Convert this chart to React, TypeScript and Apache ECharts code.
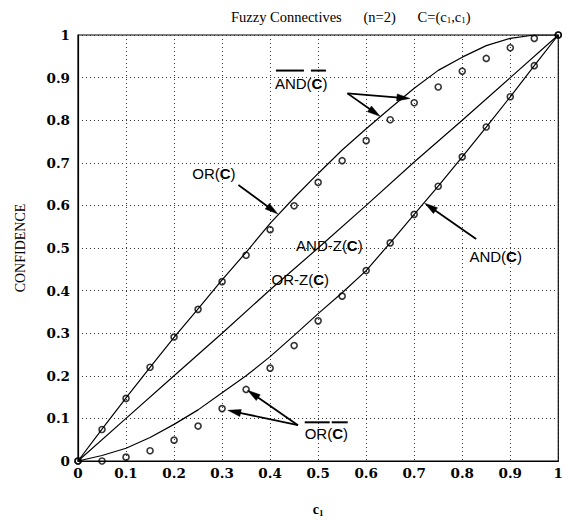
import React, { useEffect, useRef } from "react";
import * as echarts from "echarts";

// c1 sample points (0 .. 1 step 0.05)
const c1Values = [0, 0.05, 0.1, 0.15, 0.2, 0.25, 0.3, 0.35, 0.4, 0.45, 0.5, 0.55, 0.6, 0.65, 0.7, 0.75, 0.8, 0.85, 0.9, 0.95, 1];

// OR(C) solid curve
const orLine = [0, 0.075, 0.148, 0.22, 0.29, 0.357, 0.425, 0.49, 0.558, 0.618, 0.675, 0.73, 0.78, 0.828, 0.875, 0.917, 0.948, 0.975, 0.992, 1.0, 1.0];
// AND(C) solid curve
const andLine = [0, 0.013, 0.03, 0.055, 0.086, 0.12, 0.16, 0.2, 0.245, 0.295, 0.346, 0.395, 0.447, 0.512, 0.579, 0.645, 0.714, 0.784, 0.855, 0.928, 1.0];
// AND-Z(C) / OR-Z(C) curve (0 .. 1 step 0.1)
const zX = [0, 0.1, 0.2, 0.3, 0.4, 0.5, 0.6, 0.7, 0.8, 0.9, 1];
const zLine = [0, 0.1, 0.2, 0.3, 0.402, 0.5, 0.6, 0.702, 0.8, 0.9, 1.0];
// overlined AND(overlined C) circles
const andBarCircles = [0, 0.074, 0.147, 0.22, 0.291, 0.356, 0.421, 0.483, 0.543, 0.599, 0.654, 0.705, 0.752, 0.801, 0.841, 0.878, 0.915, 0.945, 0.97, 0.992, 1.0];
// overlined OR(overlined C) circles
const orBarCircles = [0, 0.0, 0.009, 0.024, 0.049, 0.082, 0.123, 0.168, 0.218, 0.271, 0.329, 0.387, 0.447, 0.512, 0.579, 0.645, 0.714, 0.784, 0.855, 0.928, 1.0];

// axis ticks
const tickMin = 0;
const tickMax = 1;
const tickStep = 0.1;

const pairs = (xs: number[], ys: number[]) => xs.map((x, i) => [x, ys[i]]);

const SANS = "'Liberation Sans', Arial, sans-serif";
const SERIF = "'Liberation Serif', 'Times New Roman', serif";
const TICKFONT = "'DejaVu Serif', serif";

export default function App() {
  const ref = useRef<HTMLDivElement>(null);

  useEffect(() => {
    if (!ref.current) return;
    const chart = echarts.init(ref.current, undefined, { renderer: "svg" });

    const axisCommon = {
      type: "value" as const,
      min: tickMin,
      max: tickMax,
      interval: tickStep,
      axisLine: { show: true, onZero: false, lineStyle: { color: "#000", width: 1.2 } },
      axisTick: { show: false },
      splitLine: { show: true, lineStyle: { color: "#333", width: 1, type: [1, 3] as any } },
      axisLabel: {
        color: "#000",
        fontFamily: TICKFONT,
        fontWeight: "bold" as const,
        fontSize: 13.5,
      },
    };

    const option: any = {
      animation: false,
      backgroundColor: "#fff",
      title: {
        text: "Fuzzy Connectives      (n=2)      C=(c{s|1},c{s|1})",
        left: 231,
        top: 9,
        padding: 0,
        textStyle: {
          fontFamily: SERIF,
          fontWeight: "normal",
          fontSize: 14.5,
          color: "#000",
          rich: {
            s: { fontFamily: SERIF, fontSize: 9, color: "#000", verticalAlign: "bottom", padding: [6, 0, 0, 0] },
          },
        },
      },
      grid: {
        left: 78,
        right: 3,
        top: 35,
        bottom: 52,
        show: true,
        borderColor: "#000",
        borderWidth: 1.2,
        backgroundColor: "transparent",
      },
      xAxis: {
        ...axisCommon,
        axisLabel: { ...axisCommon.axisLabel, margin: 5 },
        name: "c{s|1}",
        nameLocation: "middle",
        nameGap: 40,
        nameTextStyle: {
          fontFamily: SERIF,
          fontWeight: "bold",
          fontSize: 14,
          color: "#000",
          rich: {
            s: { fontFamily: SERIF, fontWeight: "bold", fontSize: 9, color: "#000", padding: [7, 0, 0, 0] },
          },
        },
      },
      yAxis: {
        ...axisCommon,
        axisLabel: { ...axisCommon.axisLabel, margin: 8 },
        name: "CONFIDENCE",
        nameLocation: "middle",
        nameGap: 51,
        nameTextStyle: { fontFamily: SERIF, fontSize: 14, color: "#000" },
      },
      series: [
        {
          name: "OR(C)",
          type: "line",
          data: pairs(c1Values, orLine),
          symbol: "none",
          lineStyle: { color: "#000", width: 1.2 },
          z: 3,
        },
        {
          name: "AND(C)",
          type: "line",
          data: pairs(c1Values, andLine),
          symbol: "none",
          lineStyle: { color: "#000", width: 1.2 },
          z: 3,
        },
        {
          name: "AND-Z(C) / OR-Z(C)",
          type: "line",
          data: pairs(zX, zLine),
          symbol: "none",
          lineStyle: { color: "#000", width: 1.2 },
          z: 3,
        },
        {
          name: "not AND(not C)",
          type: "scatter",
          data: pairs(c1Values, andBarCircles),
          symbol: "circle",
          symbolSize: 6,
          itemStyle: { color: "rgba(0,0,0,0)", borderColor: "#000", borderWidth: 1.6 },
          z: 4,
        },
        {
          name: "not OR(not C)",
          type: "scatter",
          data: pairs(c1Values, orBarCircles),
          symbol: "circle",
          symbolSize: 6,
          itemStyle: { color: "rgba(0,0,0,0)", borderColor: "#000", borderWidth: 1.6 },
          z: 4,
        },
      ],
    };

    chart.setOption(option);

    const p = (x: number, y: number) =>
      chart.convertToPixel({ xAxisIndex: 0, yAxisIndex: 0 }, [x, y]) as number[];

    const rich = {
      a: { fontFamily: SANS, fontSize: 15, color: "#000" },
      b: { fontFamily: SANS, fontSize: 15, fontWeight: "bold", color: "#000" },
    };

    const labels: { x: number; y: number; text: string; bars?: number[][]; barDy?: number }[] = [
      { x: 0.41, y: 0.886, text: "{a|AND(}{b|C}{a|)}", bars: [[1, 29], [36, 51]], barDy: -13 },
      { x: 0.238, y: 0.676, text: "{a|OR(}{b|C}{a|)}" },
      { x: 0.454, y: 0.506, text: "{a|AND-Z(}{b|C}{a|)}" },
      { x: 0.403, y: 0.425, text: "{a|OR-Z(}{b|C}{a|)}" },
      { x: 0.815, y: 0.479, text: "{a|AND(}{b|C}{a|)}" },
      { x: 0.472, y: 0.065, text: "{a|OR(}{b|C}{a|)}", bars: [[0, 25], [27, 43]], barDy: -11 },
    ];

    const arrows: number[][][] = [
      [[0.561, 0.863], [0.691, 0.851]],
      [[0.561, 0.863], [0.629, 0.809]],
      [[0.334, 0.648], [0.416, 0.58]],
      [[0.829, 0.521], [0.722, 0.605]],
      [[0.458, 0.084], [0.312, 0.119]],
      [[0.458, 0.084], [0.353, 0.166]],
    ];

    const elements: any[] = [];
    labels.forEach((l) => {
      const [px, py] = p(l.x, l.y);
      elements.push({
        type: "text",
        x: px,
        y: py,
        z: 10,
        style: { text: l.text, rich, align: "left", verticalAlign: "middle", fill: "#000" },
      });
      (l.bars || []).forEach(([a, b]) => {
        elements.push({
          type: "line",
          z: 10,
          shape: { x1: px + a, y1: py + (l.barDy || -12), x2: px + b, y2: py + (l.barDy || -12) },
          style: { stroke: "#000", lineWidth: 2 },
        });
      });
    });

    arrows.forEach(([t, h]) => {
      const [x1, y1] = p(t[0], t[1]);
      const [x2, y2] = p(h[0], h[1]);
      const dx = x2 - x1;
      const dy = y2 - y1;
      const len = Math.sqrt(dx * dx + dy * dy);
      const ux = dx / len;
      const uy = dy / len;
      const L = 13;
      const W = 3.5;
      const bx = x2 - ux * L;
      const by = y2 - uy * L;
      elements.push({
        type: "line",
        z: 10,
        shape: { x1, y1, x2: bx + ux * 2, y2: by + uy * 2 },
        style: { stroke: "#000", lineWidth: 1.8 },
      });
      elements.push({
        type: "polygon",
        z: 10,
        shape: {
          points: [
            [x2, y2],
            [bx - uy * W, by + ux * W],
            [bx + uy * W, by - ux * W],
          ],
        },
        style: { fill: "#000", stroke: "#000", lineWidth: 0.5 },
      });
    });

    chart.setOption({ graphic: elements });

    return () => chart.dispose();
  }, []);

  return (
    <div
      ref={ref}
      style={{ position: "fixed", left: 0, top: 0, width: 566, height: 522, background: "#fff" }}
    />
  );
}
